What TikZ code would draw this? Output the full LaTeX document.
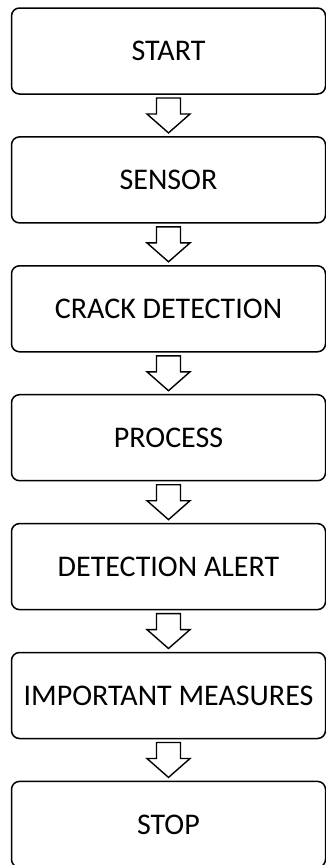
\documentclass[tikz,border=0pt]{standalone}
\usepackage{fontspec}
\setmainfont{Carlito}
\usetikzlibrary{positioning,calc}

\tikzset{
    box/.style={draw, rounded corners=8pt, line width=1.5pt, outer sep=0pt, inner sep=0pt,
        minimum width=314pt, minimum height=86pt, font=\fontsize{30}{35}\selectfont},
    blockarrow/.style={draw, line width=1.4pt, fill=white}
}

\begin{document}
\begin{tikzpicture}

    \useasboundingbox (0,0) rectangle (326pt,-865pt);

    % Blocchi
    \node[box] (start) at (168.5pt,-51pt) {START};
    \node[box, below=42.9pt of start] (sensor) {SENSOR};
    \node[box, below=42.9pt of sensor] (crack) {CRACK DETECTION};
    \node[box, below=42.9pt of crack] (process) {PROCESS};
    \node[box, below=42.9pt of process] (alert) {DETECTION ALERT};
    \node[box, below=42.9pt of alert] (measures) {IMPORTANT MEASURES};
    \node[box, below=42.9pt of measures] (stop) {STOP};

    % Frecce a blocco
    \foreach \a/\b in {start/sensor, sensor/crack, crack/process, process/alert, alert/measures, measures/stop} {
        \draw[blockarrow] ($(\a.south)+(-12pt,-4pt)$) -- ($(\a.south)+(12pt,-4pt)$)
            -- ($(\a.south)+(12pt,-20pt)$) -- ($(\a.south)+(21.5pt,-20pt)$)
            -- ($(\b.north)+(0,4pt)$) -- ($(\a.south)+(-21.5pt,-20pt)$)
            -- ($(\a.south)+(-12pt,-20pt)$) -- cycle;
    }

\end{tikzpicture}
\end{document}
